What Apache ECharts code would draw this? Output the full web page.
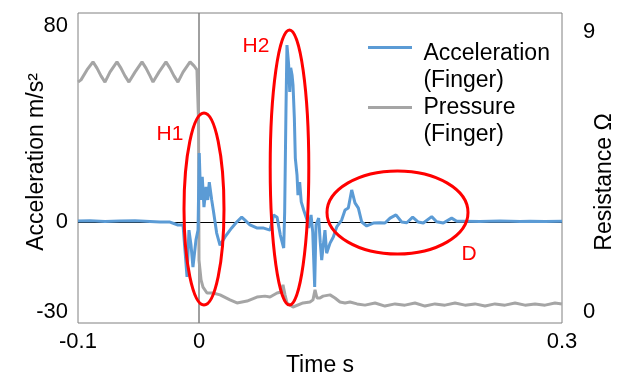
<!DOCTYPE html>
<html>
<head>
<meta charset="utf-8">
<script src="https://cdn.jsdelivr.net/npm/echarts@6/dist/echarts.min.js"></script>
<style>
    html, body { margin: 0; padding: 0; background: #fff; }
    #main { width: 625px; height: 372px; }
</style>
</head>
<body>
<div id="main"></div>
<script>
// time axis (s)
var xTickValues = [-0.1, 0, 0.3];
// left axis ticks (labels are placed where the figure puts them)
var leftTickValues = [-36.7, 0, 80];
var leftTickLabels = ['-30', '0', '80'];
var rightTickValues = [0, 9];

// acceleration (finger), m/s^2
var accelTime = [-0.1, -0.0901, -0.0777, -0.0653, -0.0529, -0.0405, -0.0322, -0.024, -0.0174, -0.0132,
    -0.0116, -0.0099, -0.0083, -0.0066, -0.005, -0.0025, -0.0008, 0.0002, 0.0014, 0.0027,
    0.0041, 0.0058, 0.0072, 0.0085, 0.0105, 0.0118, 0.0146, 0.0174, 0.0215, 0.027,
    0.0312, 0.0353, 0.038, 0.0421, 0.0477, 0.0529, 0.0587, 0.0617, 0.0645, 0.0672,
    0.07, 0.0708, 0.0719, 0.0727, 0.0741, 0.075, 0.0758, 0.0769, 0.0777, 0.0788,
    0.0796, 0.081, 0.0818, 0.0832, 0.0845, 0.0865, 0.0893, 0.0907, 0.0926, 0.094,
    0.0956, 0.0967, 0.0989, 0.1002, 0.1014, 0.1041, 0.1055, 0.1083, 0.111, 0.1138,
    0.1179, 0.1207, 0.1234, 0.1262, 0.1289, 0.1317, 0.1345, 0.1386, 0.1441, 0.1496,
    0.1537, 0.1579, 0.1628, 0.1675, 0.1717, 0.1766, 0.1812, 0.1854, 0.1923, 0.1964,
    0.2019, 0.2088, 0.213, 0.2184, 0.2322, 0.2488, 0.257, 0.2653, 0.2736, 0.286, 0.3];
var accelValues = [0.4, 0.5, 0.2, 0.4, 0.5, 0.2, 0, 0, -1.2, -1.2,
    -11.4, -22.4, -3.3, -9.4, -18.4, -7.3, -3.3, 28.2, 9.0, 18.4,
    6.1, 14.3, 9.0, 16.3, 9.0, 4.9, -4.5, -9.5, -6.1, -2.4,
    0, 2.0, 0.8, -1.2, -2.4, -2.4, -3.3, 2.9, 2.0, -5.3,
    -10.6, 4.1, 46.5, 72.2, 64.1, 53.1, 62.9, 60, 55.9, 42.4,
    26.1, 19.2, 11, 16.3, 8.2, 4.9, 0.8, -2.4, 2.9, -4.1,
    -26.5, -1.2, 1.6, -8.2, -15.5, -3.3, -12.7, -8.6, -6.1, -2.0,
    0.8, 4.9, 5.7, 13.1, 7.8, 5.7, 0, -1.6, -0.4, -0.3,
    -0.4, 1.6, 2.9, 0, -0.3, 2.0, 0, -0.4, 2.2, 0.1,
    -0.4, 1.6, 0.3, 0.3, 0.2, 0.4, 0.3, 0.2, 0.3, 0.2, 0.3];

// pressure (finger), resistance in ohm
var pressureTime = [-0.1, -0.0975, -0.0926, -0.0876, -0.0843, -0.081, -0.0777, -0.0736, -0.0678, -0.0645,
    -0.0612, -0.0579, -0.0529, -0.0471, -0.0438, -0.0405, -0.038, -0.0331, -0.0273, -0.024,
    -0.0207, -0.0174, -0.0132, -0.0074, -0.0041, -0.0017, -0.0004, 0, 0.0017, 0.0033,
    0.0066, 0.0116, 0.0174, 0.0256, 0.0314, 0.0397, 0.0479, 0.0545, 0.0587, 0.0645,
    0.0678, 0.0694, 0.0711, 0.0727, 0.0777, 0.086, 0.0917, 0.0942, 0.0959, 0.0975,
    0.1, 0.1025, 0.1083, 0.1124, 0.1165, 0.1207, 0.1248, 0.1306, 0.1372, 0.1455,
    0.1537, 0.162, 0.1702, 0.1785, 0.1868, 0.195, 0.2033, 0.2116, 0.2198, 0.2281,
    0.2364, 0.2446, 0.2529, 0.2612, 0.2694, 0.2777, 0.286, 0.2942, 0.3];
var pressureValues = [7.39, 7.46, 7.78, 8.04, 7.84, 7.59, 7.39, 7.71, 8.04, 7.84,
    7.59, 7.39, 7.71, 8.04, 7.84, 7.59, 7.39, 7.71, 8.04, 7.84,
    7.59, 7.39, 7.71, 8.04, 7.91, 7.78, 6.17, 1.67, 1.03, 0.80,
    0.61, 0.61, 0.55, 0.39, 0.29, 0.35, 0.48, 0.51, 0.48, 0.61,
    0.64, 0.87, 0.55, 0.29, 0.16, 0.29, 0.32, 0.39, 0.71, 0.45,
    0.45, 0.51, 0.55, 0.45, 0.32, 0.29, 0.32, 0.26, 0.22, 0.29,
    0.19, 0.26, 0.22, 0.29, 0.19, 0.26, 0.22, 0.29, 0.22, 0.26,
    0.19, 0.26, 0.22, 0.29, 0.22, 0.26, 0.22, 0.29, 0.26];

var FONT = "'Liberation Sans', Arial, sans-serif";

function zip(xs, ys) {
    var out = [];
    for (var i = 0; i < xs.length; i++) {
        out.push([xs[i], ys[i]]);
    }
    return out;
}

function noteText(text, x, y) {
    return {
        type: 'text', silent: true, z: 20,
        style: { text: text, x: x, y: y, fill: '#ff0000', font: '21px ' + FONT, align: 'center', verticalAlign: 'middle' }
    };
}

function noteEllipse(cx, cy, rx, ry) {
    return {
        type: 'ellipse', silent: true, z: 20,
        shape: { cx: cx, cy: cy, rx: rx, ry: ry },
        style: { fill: 'none', stroke: '#ff0000', lineWidth: 3 }
    };
}

function renderChart() {
    var chart = echarts.init(document.getElementById('main'));
    var option = {
        animation: false,
        textStyle: { fontFamily: FONT },
        grid: {
            left: 78, right: 63, top: 13, bottom: 49,
            outerBoundsMode: 'none',
            show: true, borderColor: '#808080', borderWidth: 1
        },
        legend: {
            orient: 'vertical',
            left: 368, top: 9,
            padding: 0,
            itemGap: -23,
            itemWidth: 44,
            itemHeight: 3,
            icon: 'rect',
            textStyle: {
                fontSize: 23, color: '#000',
                rich: {
                    a: { fontSize: 23, lineHeight: 39 },
                    b: { fontSize: 23, lineHeight: 27 },
                    t: { fontSize: 23, lineHeight: 27, color: '#000' }
                }
            },
            formatter: function (name) {
                // blank first line keeps the sample level with the first text line
                var parts = name.split(' ');
                var lead = name.indexOf('Acceleration') === 0 ? '{a| }' : '{b| }';
                return lead + '\n{t| ' + parts[0] + '}\n{t| ' + parts[1] + '}';
            },
            data: ['Acceleration (Finger)', 'Pressure (Finger)']
        },
        xAxis: {
            type: 'value',
            min: -0.1, max: 0.3,
            name: 'Time s',
            nameLocation: 'middle',
            nameGap: 31,
            nameMoveOverlap: false,
            nameTextStyle: { fontSize: 23, color: '#000' },
            axisLine: { show: false },
            axisTick: { show: false },
            splitLine: { show: false },
            axisLabel: { customValues: xTickValues, fontSize: 22, color: '#000', margin: 8 }
        },
        yAxis: [{
            type: 'value',
            min: -41.2, max: 85.3,
            name: 'Acceleration m/s²',
            nameLocation: 'middle',
            nameRotate: 90,
            nameGap: 30,
            nameMoveOverlap: false,
            nameTextStyle: { fontSize: 23, color: '#000', padding: [0, 0, 0, 12] },
            axisLine: { show: false },
            axisTick: { show: false },
            splitLine: { show: false },
            axisLabel: {
                customValues: leftTickValues, fontSize: 22, color: '#000', margin: 10,
                formatter: function (v) {
                    var i = leftTickValues.indexOf(v);
                    return i < 0 ? '' : leftTickLabels[i];
                }
            }
        }, {
            type: 'value',
            min: -0.354, max: 9.61,
            name: 'Resistance Ω',
            nameLocation: 'middle',
            nameRotate: 90,
            nameGap: 31,
            nameMoveOverlap: false,
            nameTextStyle: { fontSize: 23, color: '#000', padding: [0, 28, 0, 0] },
            axisLine: { show: false },
            axisTick: { show: false },
            splitLine: { show: false },
            axisLabel: { customValues: rightTickValues, fontSize: 22, color: '#000', margin: 21 }
        }],
        series: [{
            name: 'Pressure (Finger)',
            type: 'line',
            yAxisIndex: 1,
            symbol: 'none',
            z: 2,
            lineStyle: { color: '#a5a5a5', width: 3 },
            itemStyle: { color: '#a5a5a5' },
            data: zip(pressureTime, pressureValues),
            markLine: {
                silent: true, symbol: 'none', z: 1,
                label: { show: false },
                lineStyle: { color: '#808080', width: 1.5, type: 'solid' },
                data: [{ xAxis: 0 }]
            }
        }, {
            name: 'Acceleration (Finger)',
            type: 'line',
            yAxisIndex: 0,
            symbol: 'none',
            z: 3,
            lineStyle: { color: '#5b9bd5', width: 3 },
            itemStyle: { color: '#5b9bd5' },
            data: zip(accelTime, accelValues),
            markLine: {
                silent: true, symbol: 'none', z: 1,
                label: { show: false },
                lineStyle: { color: '#000', width: 1, type: 'solid' },
                data: [{ yAxis: 0 }]
            }
        }],
        graphic: [
            noteEllipse(204, 209, 20, 96),
            noteEllipse(289.5, 167.5, 19.3, 137.5),
            noteEllipse(397.5, 212.5, 70.5, 41.5),
            noteText('H1', 170, 134),
            noteText('H2', 256, 46),
            noteText('D', 469, 254)
        ]
    };
    chart.setOption(option);
}

renderChart();
</script>
</body>
</html>
